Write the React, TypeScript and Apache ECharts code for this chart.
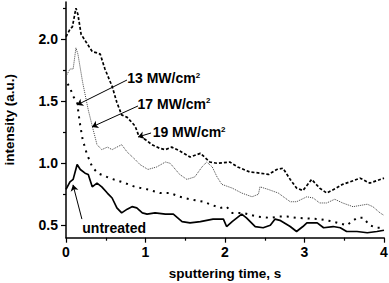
import React, { useEffect, useRef } from "react";
import * as echarts from "echarts";

// sputtering time (s) and intensity (a.u.)
const t19 = [0, 0.05, 0.08, 0.125, 0.15, 0.19, 0.26, 0.33, 0.39, 0.43, 0.49, 0.58, 0.64, 0.70, 0.77, 0.87, 0.91, 1.0, 1.08, 1.18, 1.25, 1.33, 1.43, 1.56, 1.69, 1.81, 1.9, 2.06, 2.16, 2.31, 2.45, 2.55, 2.65, 2.73, 2.82, 2.9, 2.98, 3.09, 3.19, 3.28, 3.4, 3.48, 3.57, 3.70, 3.82, 4.0];
const v19 = [2.02, 2.08, 2.1, 2.25, 2.2, 2.04, 1.97, 1.90, 1.89, 1.88, 1.76, 1.62, 1.49, 1.39, 1.37, 1.30, 1.23, 1.19, 1.15, 1.12, 1.11, 1.13, 1.10, 1.05, 1.08, 1.01, 1.0, 1.01, 0.97, 0.93, 0.92, 0.91, 0.95, 0.96, 0.87, 0.80, 0.78, 0.87, 0.80, 0.76, 0.80, 0.83, 0.85, 0.88, 0.84, 0.88];

const t17 = [0, 0.05, 0.09, 0.125, 0.15, 0.21, 0.28, 0.33, 0.39, 0.45, 0.52, 0.58, 0.64, 0.70, 0.77, 0.87, 0.93, 1.03, 1.14, 1.25, 1.31, 1.43, 1.52, 1.62, 1.71, 1.77, 1.84, 1.90, 1.96, 2.09, 2.21, 2.34, 2.42, 2.44, 2.54, 2.67, 2.82, 2.90, 3.03, 3.11, 3.19, 3.28, 3.38, 3.48, 3.61, 3.79, 3.86, 3.95, 4.0];
const v17 = [1.70, 1.76, 1.76, 1.93, 1.88, 1.65, 1.43, 1.30, 1.15, 1.11, 1.13, 1.11, 1.13, 1.15, 1.09, 1.03, 0.99, 0.95, 0.97, 1.01, 1.0, 0.91, 0.87, 0.89, 0.97, 1.01, 0.97, 0.89, 0.83, 0.80, 0.76, 0.73, 0.75, 0.81, 0.79, 0.76, 0.69, 0.69, 0.73, 0.72, 0.68, 0.68, 0.71, 0.68, 0.65, 0.67, 0.65, 0.60, 0.58];

const t13 = [0.02, 0.05, 0.09, 0.14, 0.16, 0.18, 0.21, 0.26, 0.33, 0.40, 0.55, 0.70, 0.87, 1.02, 1.18, 1.31, 1.43, 1.56, 1.73, 1.81, 1.94, 2.02, 2.09, 2.23, 2.40, 2.57, 2.67, 2.78, 2.90, 3.19, 3.36, 3.53, 3.66, 3.74, 3.82, 3.91, 4.0];
const v13 = [1.64, 1.61, 1.54, 1.49, 1.39, 1.30, 1.19, 1.08, 0.97, 0.92, 0.88, 0.85, 0.81, 0.79, 0.76, 0.76, 0.73, 0.71, 0.69, 0.67, 0.64, 0.65, 0.60, 0.60, 0.57, 0.56, 0.57, 0.57, 0.56, 0.55, 0.53, 0.50, 0.56, 0.56, 0.50, 0.48, 0.48];

const tU = [0, 0.05, 0.09, 0.14, 0.18, 0.24, 0.28, 0.33, 0.39, 0.45, 0.52, 0.58, 0.64, 0.70, 0.77, 0.83, 0.89, 0.96, 1.02, 1.12, 1.25, 1.35, 1.46, 1.56, 1.69, 1.85, 1.98, 2.02, 2.09, 2.21, 2.27, 2.38, 2.48, 2.57, 2.63, 2.69, 2.82, 2.90, 2.98, 3.03, 3.16, 3.24, 3.36, 3.45, 3.53, 3.66, 3.79, 3.91, 4.0];
const vU = [0.79, 0.85, 0.87, 0.99, 0.95, 0.92, 0.91, 0.81, 0.84, 0.81, 0.76, 0.72, 0.64, 0.60, 0.63, 0.65, 0.64, 0.60, 0.59, 0.60, 0.59, 0.59, 0.53, 0.52, 0.53, 0.55, 0.55, 0.49, 0.53, 0.59, 0.56, 0.49, 0.48, 0.50, 0.55, 0.54, 0.49, 0.45, 0.49, 0.52, 0.52, 0.48, 0.49, 0.48, 0.45, 0.45, 0.44, 0.45, 0.46];

const yMajor = [0.5, 1.0, 1.5, 2.0];
const yMinor = [0.75, 1.25, 1.75, 2.25];

// annotations: label text, label anchor (data coords), arrow start and arrow tip (data coords)
const labels = ["13 MW/cm{sup|2}", "17 MW/cm{sup|2}", "19 MW/cm{sup|2}", "untreated"];
const labelAt = [[0.77, 1.686], [0.9, 1.48], [1.09, 1.25], [0.205, 0.48]];
const arrowFrom = [[0.767, 1.671], [0.906, 1.462], [1.07, 1.244], [0.2, 0.55]];
const arrowTo = [[0.138, 1.47], [0.327, 1.293], [0.906, 1.212], [0.088, 0.826]];

const FONT = "'Liberation Sans', Arial, sans-serif";

const zip = (a: number[], b: number[]) => a.map((x, i) => [x, b[i]]);

export default function App() {
  const ref = useRef<HTMLDivElement>(null);
  useEffect(() => {
    document.body.style.margin = "0";
    const chart = echarts.init(ref.current!, null, { renderer: "svg" });
    const axisText = { color: "#000", fontWeight: "bold" as const, fontSize: 14, fontFamily: FONT };
    chart.setOption({
      animation: false,
      grid: { left: 66, right: 5, top: 2, bottom: 45.3, containLabel: false, outerBoundsMode: "none" },
      xAxis: {
        type: "value",
        min: 0,
        max: 4,
        interval: 1,
        name: "sputtering time, s",
        nameLocation: "middle",
        nameGap: 29,
        nameTextStyle: { color: "#000", fontWeight: "bold", fontSize: 13.5, fontFamily: FONT },
        axisLine: { lineStyle: { color: "#000", width: 1.5 } },
        axisTick: { show: true, inside: false, length: 5, lineStyle: { color: "#000", width: 1.2 } },
        minorTick: { show: true, splitNumber: 2, length: 3, lineStyle: { color: "#000", width: 1.2 } },
        axisLabel: { ...axisText, margin: 7 },
        splitLine: { show: false },
        minorSplitLine: { show: false },
      },
      yAxis: [
        {
          type: "value",
          min: 0.4,
          max: 2.3,
          name: "intensity (a.u.)",
          nameLocation: "middle",
          nameGap: 50,
          nameTextStyle: { color: "#000", fontWeight: "bold", fontSize: 13.5, fontFamily: FONT },
          axisLine: { show: true, lineStyle: { color: "#000", width: 1.5 } },
          axisTick: { show: true, inside: false, length: 5, customValues: yMajor, lineStyle: { color: "#000", width: 1.2 } },
          axisLabel: { ...axisText, margin: 8, customValues: yMajor, formatter: (v: number) => v.toFixed(1) },
          splitLine: { show: false },
        },
        {
          type: "value",
          min: 0.4,
          max: 2.3,
          position: "left",
          axisLine: { show: false },
          axisTick: { show: true, inside: false, length: 3, customValues: yMinor, lineStyle: { color: "#000", width: 1.2 } },
          axisLabel: { show: false },
          splitLine: { show: false },
        },
      ],
      series: [
        {
          name: "19 MW/cm2",
          type: "line",
          data: zip(t19, v19),
          showSymbol: false,
          lineStyle: { color: "#000", width: 1.7, type: [3, 2] },
        },
        {
          name: "17 MW/cm2",
          type: "line",
          data: zip(t17, v17),
          showSymbol: false,
          lineStyle: { color: "#444", width: 1, type: [1, 1] },
        },
        {
          name: "13 MW/cm2",
          type: "line",
          data: zip(t13, v13),
          showSymbol: false,
          lineStyle: { color: "#000", width: 2, type: [2, 5] },
        },
        {
          name: "untreated",
          type: "line",
          data: zip(tU, vU),
          showSymbol: false,
          lineStyle: { color: "#000", width: 1.7 },
          markLine: {
            silent: true,
            symbol: ["none", "arrow"],
            symbolSize: 6,
            label: { show: false },
            lineStyle: { color: "#000", width: 1, type: "solid" },
            data: arrowFrom.map((f, i) => [{ coord: f }, { coord: arrowTo[i] }]),
          },
        },
      ],
    });
    const graphic = labels.map((txt, i) => {
      const p = chart.convertToPixel({ gridIndex: 0 }, labelAt[i]) as number[];
      return {
        type: "text",
        x: p[0],
        y: p[1],
        style: {
          text: txt,
          fontSize: 14,
          fontWeight: "bold",
          fontFamily: FONT,
          fill: "#000",
          verticalAlign: "middle",
          rich: {
            sup: { fontSize: 8, fontWeight: "bold", fontFamily: FONT, fill: "#000", verticalAlign: "top", padding: [0, 0, 6, 0] },
          },
        },
      };
    });
    chart.setOption({ graphic });
    return () => chart.dispose();
  }, []);
  return <div ref={ref} style={{ width: 389, height: 283 }} />;
}
